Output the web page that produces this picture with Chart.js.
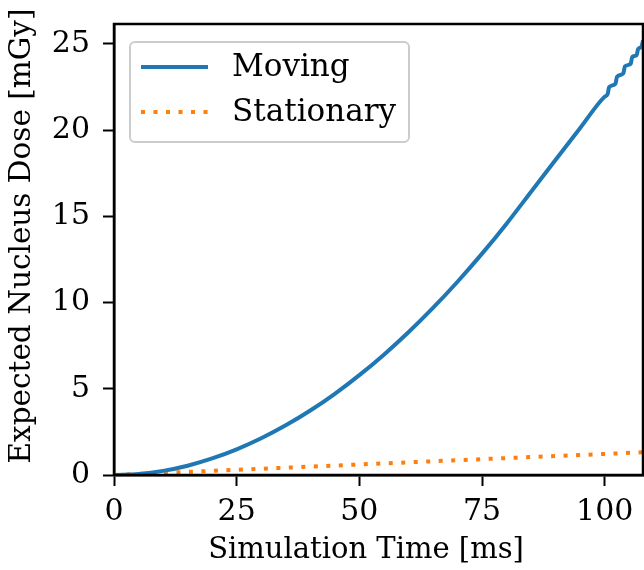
<!DOCTYPE html>
<html>
<head>
    <title>Expected Nucleus Dose</title>
    <script src="https://cdn.jsdelivr.net/npm/chart.js"></script>
    <style>
        html, body { margin: 0; padding: 0; background: #fff; }
        #wrap { width: 644px; height: 570px; }
    </style>
</head>
<body>
    <div id="wrap"><canvas id="doseChart" width="644" height="570"></canvas></div>

    <script>
        // values
        const movingTime = [0, 5, 10, 15, 20, 25, 30, 35, 40, 45, 50, 55, 60, 65, 70, 75, 80, 85, 90, 95, 100,
                            100.6, 100.9, 102.2, 102.5, 103.8, 104.1, 105.3, 105.6, 106.5, 106.8, 107.5, 107.8];
        const movingDose = [0, 0.06, 0.24, 0.54, 0.96, 1.49, 2.13, 2.88, 3.74, 4.71, 5.79, 6.98, 8.28, 9.69, 11.21, 12.84, 14.58, 16.43, 18.29, 20.13, 21.95,
                            22.1, 22.5, 22.7, 23.1, 23.3, 23.7, 23.85, 24.25, 24.35, 24.7, 24.85, 25.2];
        const stationaryTime = [0, 25, 50, 75, 100, 107.8];
        const stationaryDose = [0, 0.3, 0.61, 0.92, 1.22, 1.32];
        const xTicks = [0, 25, 50, 75, 100];
        const yTicks = [0, 5, 10, 15, 20, 25];
        const xTitle = 'Simulation Time [ms]';
        const yTitle = 'Expected Nucleus Dose [mGy]';

        const FONT = "'DejaVu Serif', serif";
        const BLUE = '#1f77b4';
        const ORANGE = '#ff7f0e';

        const toPoints = (xs, ys) => xs.map((x, i) => ({ x: x, y: ys[i] }));

        // frame, axis titles and legend box, matplotlib style
        const framePlugin = {
            id: 'frame',
            afterDatasetsDraw(chart) {
                const { ctx, chartArea: a } = chart;
                ctx.save();
                ctx.strokeStyle = '#000';
                ctx.lineWidth = 2.5;
                ctx.strokeRect(a.left, a.top, a.right - a.left, a.bottom - a.top);

                // axis titles (sit a bit off-centre in the reference)
                ctx.fillStyle = '#000';
                ctx.font = '29px ' + FONT;
                ctx.textAlign = 'center';
                ctx.textBaseline = 'middle';
                ctx.fillText(xTitle, 366, 550);
                ctx.save();
                ctx.translate(22, 236);
                ctx.rotate(-Math.PI / 2);
                ctx.font = '29.5px ' + FONT;
                ctx.fillText(yTitle, 0, 0);
                ctx.restore();

                // legend
                const bx = 130, by = 42, bw = 279, bh = 100, r = 5;
                ctx.fillStyle = 'rgba(255,255,255,0.8)';
                ctx.strokeStyle = '#cccccc';
                ctx.lineWidth = 2;
                ctx.beginPath();
                ctx.roundRect(bx, by, bw, bh, r);
                ctx.fill();
                ctx.stroke();

                ctx.lineWidth = 4;
                ctx.strokeStyle = BLUE;
                ctx.beginPath();
                ctx.moveTo(141, 67);
                ctx.lineTo(208, 67);
                ctx.stroke();

                ctx.strokeStyle = ORANGE;
                ctx.setLineDash([4, 8.5]);
                ctx.beginPath();
                ctx.moveTo(141, 112);
                ctx.lineTo(208, 112);
                ctx.stroke();
                ctx.setLineDash([]);

                ctx.fillStyle = '#000';
                ctx.font = '31px ' + FONT;
                ctx.textBaseline = 'middle';
                ctx.textAlign = 'left';
                chart.data.datasets.forEach((ds, i) => {
                    ctx.fillText(ds.label, 232, 68 + i * 45);
                });
                ctx.restore();
            }
        };

        new Chart(document.getElementById('doseChart').getContext('2d'), {
            type: 'scatter',
            data: {
                datasets: [
                    {
                        label: 'Moving',
                        data: toPoints(movingTime, movingDose),
                        showLine: true,
                        borderColor: BLUE,
                        borderWidth: 4,
                        pointRadius: 0,
                        cubicInterpolationMode: 'monotone'
                    },
                    {
                        label: 'Stationary',
                        data: toPoints(stationaryTime, stationaryDose),
                        showLine: true,
                        borderColor: ORANGE,
                        borderWidth: 4,
                        borderDash: [4, 8.5],
                        pointRadius: 0,
                        tension: 0
                    }
                ]
            },
            options: {
                responsive: false,
                animation: false,
                layout: { padding: { top: 24, right: 1, left: 0, bottom: 0 } },
                plugins: {
                    legend: { display: false },
                    tooltip: { enabled: false }
                },
                scales: {
                    x: {
                        type: 'linear',
                        min: 0,
                        max: 107.8,
                        afterFit: s => { s.height = 95; s.paddingLeft = 0; s.paddingRight = 0; },
                        afterBuildTicks: s => { s.ticks = xTicks.map(v => ({ value: v })); },
                        ticks: { color: '#000', font: { family: FONT, size: 30 }, padding: 8, maxRotation: 0 },
                        grid: { drawOnChartArea: false, tickLength: 11, tickWidth: 2, tickColor: '#000' },
                        border: { color: '#000', width: 2.5 },
                        title: { display: false, text: xTitle }
                    },
                    y: {
                        type: 'linear',
                        min: 0,
                        max: 26.16,
                        afterFit: s => { s.width = 114; s.paddingTop = 0; s.paddingBottom = 0; },
                        afterBuildTicks: s => { s.ticks = yTicks.map(v => ({ value: v })); },
                        ticks: { color: '#000', font: { family: FONT, size: 30 }, padding: 13 },
                        grid: { drawOnChartArea: false, tickLength: 11, tickWidth: 2, tickColor: '#000' },
                        border: { color: '#000', width: 2.5 },
                        title: { display: false, text: yTitle }
                    }
                }
            },
            plugins: [framePlugin]
        });
    </script>
</body>
</html>
